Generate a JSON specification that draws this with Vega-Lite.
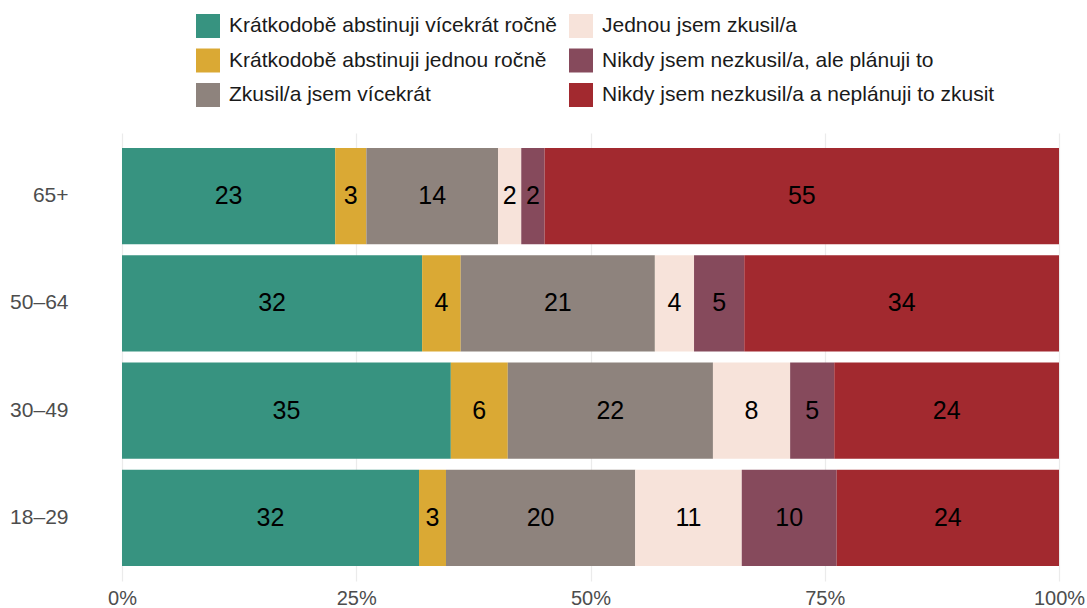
{
  "$schema": "https://vega.github.io/schema/vega-lite/v6.json",
  "width": 937,
  "height": 448,
  "autosize": {"type": "none"},
  "padding": {"left": 122, "top": 133, "right": 28, "bottom": 27},
  "background": "white",
  "config": {
    "view": {"stroke": null},
    "font": "Liberation Sans"
  },
  "data": {
    "values": [
      {"age": "65+", "k": 1, "cat": "Krátkodobě abstinuji vícekrát ročně", "value": 22.75, "label": "23"},
      {"age": "65+", "k": 2, "cat": "Krátkodobě abstinuji jednou ročně", "value": 3.33, "label": "3"},
      {"age": "65+", "k": 3, "cat": "Zkusil/a jsem vícekrát", "value": 14.05, "label": "14"},
      {"age": "65+", "k": 4, "cat": "Jednou jsem zkusil/a", "value": 2.48, "label": "2"},
      {"age": "65+", "k": 5, "cat": "Nikdy jsem nezkusil/a, ale plánuji to", "value": 2.49, "label": "2"},
      {"age": "65+", "k": 6, "cat": "Nikdy jsem nezkusil/a a neplánuji to zkusit", "value": 54.9, "label": "55"},
      {"age": "50–64", "k": 1, "cat": "Krátkodobě abstinuji vícekrát ročně", "value": 32.03, "label": "32"},
      {"age": "50–64", "k": 2, "cat": "Krátkodobě abstinuji jednou ročně", "value": 4.12, "label": "4"},
      {"age": "50–64", "k": 3, "cat": "Zkusil/a jsem vícekrát", "value": 20.72, "label": "21"},
      {"age": "50–64", "k": 4, "cat": "Jednou jsem zkusil/a", "value": 4.18, "label": "4"},
      {"age": "50–64", "k": 5, "cat": "Nikdy jsem nezkusil/a, ale plánuji to", "value": 5.36, "label": "5"},
      {"age": "50–64", "k": 6, "cat": "Nikdy jsem nezkusil/a a neplánuji to zkusit", "value": 33.59, "label": "34"},
      {"age": "30–49", "k": 1, "cat": "Krátkodobě abstinuji vícekrát ročně", "value": 35.1, "label": "35"},
      {"age": "30–49", "k": 2, "cat": "Krátkodobě abstinuji jednou ročně", "value": 6.08, "label": "6"},
      {"age": "30–49", "k": 3, "cat": "Zkusil/a jsem vícekrát", "value": 21.9, "label": "22"},
      {"age": "30–49", "k": 4, "cat": "Jednou jsem zkusil/a", "value": 8.24, "label": "8"},
      {"age": "30–49", "k": 5, "cat": "Nikdy jsem nezkusil/a, ale plánuji to", "value": 4.71, "label": "5"},
      {"age": "30–49", "k": 6, "cat": "Nikdy jsem nezkusil/a a neplánuji to zkusit", "value": 23.99, "label": "24"},
      {"age": "18–29", "k": 1, "cat": "Krátkodobě abstinuji vícekrát ročně", "value": 31.7, "label": "32"},
      {"age": "18–29", "k": 2, "cat": "Krátkodobě abstinuji jednou ročně", "value": 2.88, "label": "3"},
      {"age": "18–29", "k": 3, "cat": "Zkusil/a jsem vícekrát", "value": 20.2, "label": "20"},
      {"age": "18–29", "k": 4, "cat": "Jednou jsem zkusil/a", "value": 11.37, "label": "11"},
      {"age": "18–29", "k": 5, "cat": "Nikdy jsem nezkusil/a, ale plánuji to", "value": 10.13, "label": "10"},
      {"age": "18–29", "k": 6, "cat": "Nikdy jsem nezkusil/a a neplánuji to zkusit", "value": 23.73, "label": "24"}
    ]
  },
  "transform": [
    {"stack": "value", "groupby": ["age"], "sort": [{"field": "k", "order": "ascending"}], "offset": "normalize", "as": ["x0", "x1"]}
  ],
  "encoding": {
    "y": {
      "field": "age",
      "type": "nominal",
      "sort": ["65+", "50–64", "30–49", "18–29"],
      "scale": {"paddingInner": 0.1025, "paddingOuter": 0.14},
      "axis": {
        "title": null,
        "domain": false,
        "ticks": false,
        "tickSize": 0,
        "labelPadding": 54,
        "labelFontSize": 21,
        "labelColor": "#4d4d4d",
        "labelFont": "Liberation Sans"
      }
    }
  },
  "layer": [
    {
      "mark": {"type": "bar"},
      "encoding": {
        "x": {
          "field": "x0",
          "type": "quantitative",
          "scale": {"domain": [0, 1], "nice": false, "zero": false},
          "axis": {
            "title": null,
            "values": [0, 0.25, 0.5, 0.75, 1],
            "format": ".0%",
            "domain": false,
            "ticks": false,
            "tickSize": 0,
            "grid": true,
            "gridColor": "#ebebeb",
            "gridWidth": 1.2,
            "labelPadding": 7,
            "labelFontSize": 20,
            "labelColor": "#4d4d4d",
            "labelFont": "Liberation Sans",
            "labelFlush": false
          }
        },
        "x2": {"field": "x1"},
        "color": {
          "field": "cat",
          "type": "nominal",
          "scale": {
            "domain": [
              "Krátkodobě abstinuji vícekrát ročně",
              "Krátkodobě abstinuji jednou ročně",
              "Zkusil/a jsem vícekrát",
              "Jednou jsem zkusil/a",
              "Nikdy jsem nezkusil/a, ale plánuji to",
              "Nikdy jsem nezkusil/a a neplánuji to zkusit"
            ],
            "range": ["#379380", "#daa934", "#8e837d", "#f7e3da", "#864a5c", "#a2292f"]
          },
          "legend": {
            "title": null,
            "orient": "none",
            "direction": "vertical",
            "legendX": 74,
            "legendY": -119,
            "columns": 2,
            "symbolType": "square",
            "symbolSize": 576,
            "symbolStrokeWidth": 0,
            "symbolOpacity": 1,
            "labelFontSize": 21,
            "labelFont": "Liberation Sans",
            "labelColor": "#1a1a1a",
            "labelOffset": 9,
            "labelLimit": 600,
            "rowPadding": 10.5,
            "columnPadding": 11,
            "padding": 0
          }
        }
      }
    },
    {
      "transform": [
        {"fold": ["x0", "x1"], "as": ["edge", "pos"]},
        {"aggregate": [{"op": "mean", "field": "pos", "as": "mid"}], "groupby": ["age", "k", "label"]}
      ],
      "mark": {"type": "text", "fontSize": 25, "color": "#000000", "font": "Liberation Sans", "baseline": "middle", "align": "center"},
      "encoding": {
        "x": {"field": "mid", "type": "quantitative"},
        "text": {"field": "label"}
      }
    }
  ]
}
